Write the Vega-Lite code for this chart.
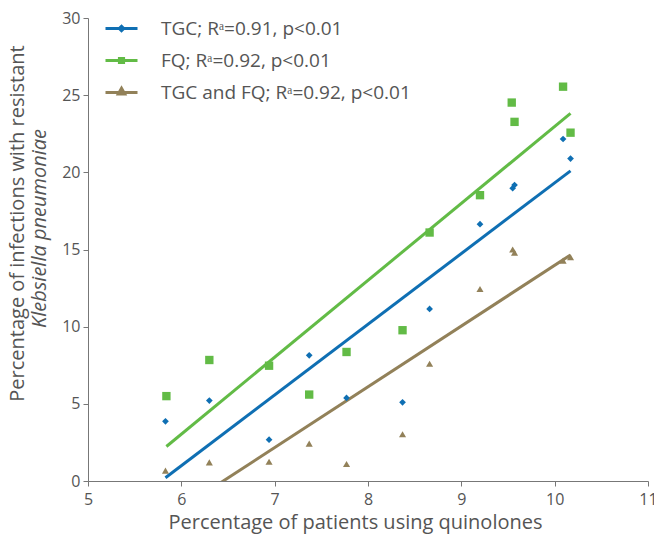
{
  "$schema": "https://vega.github.io/schema/vega-lite/v6.json",
  "width": 560,
  "height": 463,
  "autosize": {"type": "none"},
  "padding": {"left": 88, "top": 18, "right": 6, "bottom": 53},
  "background": "white",
  "config": {
    "view": {"stroke": null},
    "font": "Open Sans"
  },
  "title": {
    "text": "Percentage of infections with resistant",
    "orient": "left",
    "anchor": "middle",
    "fontSize": 20,
    "fontWeight": "normal",
    "color": "#555555",
    "font": "Open Sans",
    "offset": 2,
    "dx": 26
  },
  "data": {
    "values": [
      {"x": 5.83, "y": 3.87, "series": "TGC"},
      {"x": 6.30, "y": 5.21, "series": "TGC"},
      {"x": 6.94, "y": 2.68, "series": "TGC"},
      {"x": 7.37, "y": 8.14, "series": "TGC"},
      {"x": 7.77, "y": 5.38, "series": "TGC"},
      {"x": 8.37, "y": 5.10, "series": "TGC"},
      {"x": 8.66, "y": 11.15, "series": "TGC"},
      {"x": 9.20, "y": 16.64, "series": "TGC"},
      {"x": 9.55, "y": 18.97, "series": "TGC"},
      {"x": 9.57, "y": 19.18, "series": "TGC"},
      {"x": 10.09, "y": 22.16, "series": "TGC"},
      {"x": 10.17, "y": 20.89, "series": "TGC"},
      {"x": 5.84, "y": 5.50, "series": "FQ"},
      {"x": 6.30, "y": 7.84, "series": "FQ"},
      {"x": 6.94, "y": 7.47, "series": "FQ"},
      {"x": 7.37, "y": 5.60, "series": "FQ"},
      {"x": 7.77, "y": 8.36, "series": "FQ"},
      {"x": 8.37, "y": 9.77, "series": "FQ"},
      {"x": 8.66, "y": 16.10, "series": "FQ"},
      {"x": 9.20, "y": 18.52, "series": "FQ"},
      {"x": 9.54, "y": 24.52, "series": "FQ"},
      {"x": 9.57, "y": 23.27, "series": "FQ"},
      {"x": 10.09, "y": 25.55, "series": "FQ"},
      {"x": 10.17, "y": 22.57, "series": "FQ"},
      {"x": 5.83, "y": 0.67, "series": "TGC and FQ"},
      {"x": 6.30, "y": 1.21, "series": "TGC and FQ"},
      {"x": 6.94, "y": 1.25, "series": "TGC and FQ"},
      {"x": 7.37, "y": 2.42, "series": "TGC and FQ"},
      {"x": 7.77, "y": 1.10, "series": "TGC and FQ"},
      {"x": 8.37, "y": 3.03, "series": "TGC and FQ"},
      {"x": 8.66, "y": 7.60, "series": "TGC and FQ"},
      {"x": 9.20, "y": 12.44, "series": "TGC and FQ"},
      {"x": 9.55, "y": 15.00, "series": "TGC and FQ"},
      {"x": 9.57, "y": 14.80, "series": "TGC and FQ"},
      {"x": 10.09, "y": 14.28, "series": "TGC and FQ"},
      {"x": 10.17, "y": 14.50, "series": "TGC and FQ"}
    ]
  },
  "encoding": {
    "x": {
      "field": "x",
      "type": "quantitative",
      "scale": {"domain": [5, 11], "nice": false, "zero": false},
      "axis": {
        "values": [5, 6, 7, 8, 9, 10, 11],
        "grid": false,
        "title": "Percentage of patients using quinolones",
        "titleFontSize": 20,
        "titleFontWeight": "normal",
        "titleColor": "#555555",
        "titleX": 267,
        "titlePadding": 5,
        "labelFontSize": 16,
        "labelColor": "#555555",
        "labelPadding": 5,
        "domainColor": "#777777",
        "tickColor": "#777777",
        "tickSize": 5,
        "labelFlush": false
      }
    },
    "y": {
      "field": "y",
      "type": "quantitative",
      "scale": {"domain": [0, 30], "nice": false},
      "axis": {
        "values": [0, 5, 10, 15, 20, 25, 30],
        "grid": false,
        "title": "Klebsiella pneumoniae",
        "titleFontStyle": "italic",
        "titleFontSize": 20,
        "titleFontWeight": "normal",
        "titleColor": "#555555",
        "titleY": 210,
        "titlePadding": 12,
        "labelFontSize": 16,
        "labelColor": "#555555",
        "labelPadding": 3,
        "domainColor": "#777777",
        "tickColor": "#777777",
        "tickSize": 5
      }
    },
    "color": {
      "field": "series",
      "type": "nominal",
      "scale": {
        "domain": ["TGC", "FQ", "TGC and FQ"],
        "range": ["#0f6fb3", "#62bb46", "#928159"]
      },
      "legend": {
        "orient": "none",
        "legendX": 16,
        "legendY": -7,
        "title": null,
        "padding": 0,
        "rowPadding": 4,
        "labelFontSize": 19,
        "labelColor": "#555555",
        "labelLimit": 400,
        "labelOffset": 22,
        "symbolSize": 1024,
        "symbolStrokeWidth": 3,
        "labelExpr": "datum.label == 'TGC' ? 'TGC; Rᵃ=0.91, p<0.01' : datum.label == 'FQ' ? 'FQ; Rᵃ=0.92, p<0.01' : 'TGC and FQ; Rᵃ=0.92, p<0.01'",
        "encode": {
          "symbols": {
            "update": {
              "shape": {"signal": "datum.value == 'TGC' ? 'M-1,0H1M0,-0.14L0.14,0L0,0.14L-0.14,0Z' : datum.value == 'FQ' ? 'M-1,0H1M-0.13,-0.13H0.13V0.13H-0.13Z' : 'M-1,0H1M0,-0.26L0.2,0.1L-0.2,0.1Z'"},
              "fill": {"scale": "color", "field": "value"},
              "stroke": {"scale": "color", "field": "value"},
              "strokeWidth": {"value": 3},
              "size": {"value": 1024},
              "opacity": {"value": 1}
            }
          }
        }
      }
    }
  },
  "layer": [
    {
      "transform": [{"regression": "y", "on": "x", "groupby": ["series"]}],
      "mark": {"type": "line", "strokeWidth": 3, "clip": true}
    },
    {
      "transform": [{"filter": "datum.series == 'TGC'"}],
      "mark": {"type": "point", "shape": "diamond", "filled": true, "opacity": 1, "size": 45}
    },
    {
      "transform": [{"filter": "datum.series == 'FQ'"}],
      "mark": {"type": "point", "shape": "square", "filled": true, "opacity": 1, "size": 70}
    },
    {
      "transform": [{"filter": "datum.series == 'TGC and FQ'"}],
      "mark": {"type": "point", "shape": "triangle-up", "filled": true, "opacity": 1, "size": 50}
    }
  ]
}
